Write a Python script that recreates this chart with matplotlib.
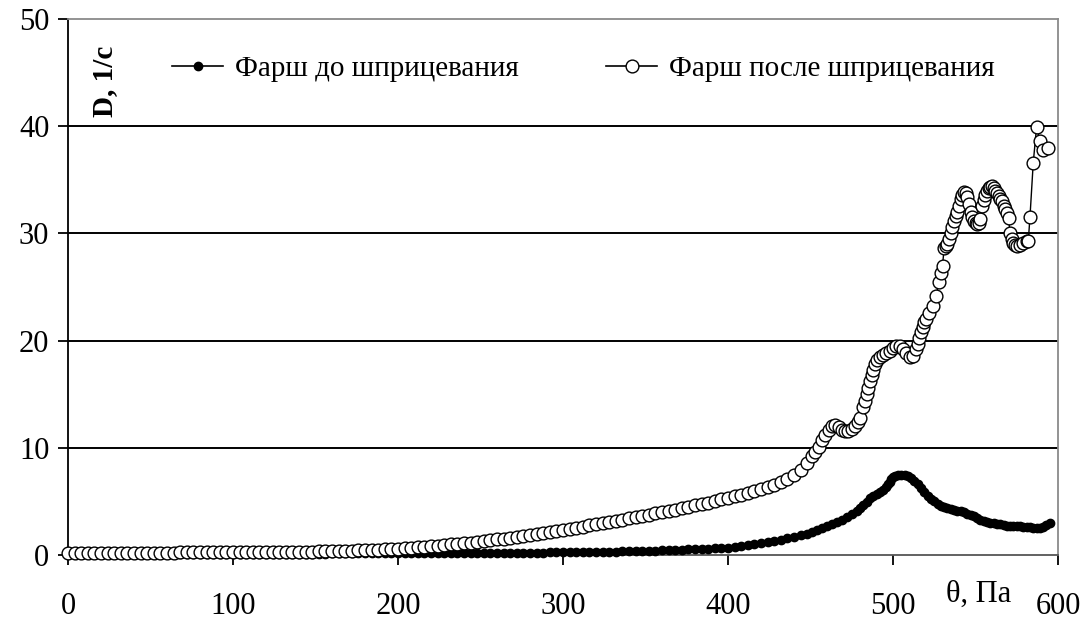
import matplotlib
matplotlib.use("Agg")
import matplotlib.pyplot as plt
from matplotlib.lines import Line2D

plt.rcParams['font.family'] = ['Liberation Serif', 'DejaVu Serif']

# Shear stress θ, Pa (shared coarse part of both curves)
stress_coarse = [
    0, 4, 8, 12, 16, 20, 24, 28, 32, 36,
    40, 44, 48, 52, 56, 60, 64, 68, 72, 76,
    80, 84, 88, 92, 96, 100, 104, 108, 112, 116,
    120, 124, 128, 132, 136, 140, 144, 148, 152, 156,
    160, 164, 168, 172, 176, 180, 184, 188, 192, 196,
    200, 204, 208, 212, 216, 220, 224, 228, 232, 236,
    240, 244, 248, 252, 256, 260, 264, 268, 272, 276,
    280, 284, 288, 292, 296, 300, 304, 308, 312, 316,
    320, 324, 328, 332, 336, 340, 344, 348, 352, 356,
    360, 364, 368, 372, 376, 380, 384, 388, 392, 396,
    400, 404, 408, 412, 416, 420, 424, 428, 432, 436,
    440, 444, 448,
]

# Mince before syringing: shear rate D, 1/s
rate_before_coarse = [
    0.12, 0.12, 0.12, 0.12, 0.12, 0.12, 0.12, 0.12, 0.12, 0.12,
    0.12, 0.12, 0.12, 0.12, 0.12, 0.12, 0.12, 0.12, 0.12, 0.12,
    0.12, 0.12, 0.12, 0.12, 0.12, 0.12, 0.12, 0.12, 0.12, 0.12,
    0.12, 0.12, 0.13, 0.13, 0.13, 0.13, 0.13, 0.13, 0.13, 0.13,
    0.14, 0.14, 0.14, 0.14, 0.14, 0.14, 0.14, 0.14, 0.15, 0.15,
    0.15, 0.15, 0.15, 0.16, 0.16, 0.16, 0.16, 0.17, 0.17, 0.17,
    0.18, 0.18, 0.18, 0.19, 0.19, 0.20, 0.20, 0.21, 0.21, 0.22,
    0.22, 0.23, 0.23, 0.24, 0.24, 0.25, 0.26, 0.27, 0.27, 0.28,
    0.29, 0.30, 0.31, 0.32, 0.33, 0.35, 0.36, 0.38, 0.40, 0.41,
    0.43, 0.45, 0.47, 0.50, 0.52, 0.54, 0.57, 0.59, 0.62, 0.64,
    0.66, 0.72, 0.80, 0.90, 1.00, 1.10, 1.20, 1.30, 1.43, 1.57,
    1.70, 1.84, 1.98,
]
stress_before_fine = [
    451, 454, 457, 460, 463, 466, 469, 472, 475, 478,
    480, 482, 484, 486, 488, 490, 492, 494, 496, 497,
    498, 499, 500, 501, 503, 505, 507, 509, 511, 513,
    515, 517, 519, 521, 523, 525, 527, 529, 531, 533,
    535, 537, 539, 541, 543, 545, 547, 549, 551, 553,
    555, 557, 559, 561, 563, 565, 567, 569, 571, 573,
    575, 577, 579, 581, 583, 585, 587, 589, 591, 593,
    595,
]
rate_before_fine = [
    2.15, 2.30, 2.50, 2.70, 2.90, 3.05, 3.25, 3.50, 3.80, 4.15,
    4.40, 4.65, 4.95, 5.30, 5.50, 5.70, 5.90, 6.10, 6.35, 6.60,
    6.85, 7.10, 7.25, 7.40, 7.50, 7.50, 7.50, 7.40, 7.20, 6.90,
    6.60, 6.25, 5.90, 5.55, 5.25, 5.00, 4.80, 4.60, 4.50, 4.35,
    4.25, 4.20, 4.15, 4.10, 4.00, 3.85, 3.70, 3.60, 3.45, 3.30,
    3.20, 3.10, 3.00, 2.95, 2.90, 2.85, 2.80, 2.75, 2.72, 2.70,
    2.70, 2.68, 2.65, 2.62, 2.58, 2.55, 2.50, 2.52, 2.60, 2.80,
    3.00,
]

# Mince after syringing: shear rate D, 1/s
rate_after_coarse = [
    0.22, 0.22, 0.22, 0.22, 0.22, 0.22, 0.22, 0.22, 0.22, 0.22,
    0.23, 0.23, 0.23, 0.23, 0.23, 0.23, 0.23, 0.24, 0.24, 0.24,
    0.24, 0.24, 0.24, 0.25, 0.25, 0.25, 0.25, 0.26, 0.26, 0.26,
    0.27, 0.27, 0.28, 0.28, 0.29, 0.29, 0.30, 0.31, 0.33, 0.35,
    0.37, 0.38, 0.39, 0.41, 0.43, 0.45, 0.47, 0.50, 0.53, 0.57,
    0.60, 0.64, 0.68, 0.72, 0.77, 0.82, 0.87, 0.92, 0.98, 1.04,
    1.10, 1.16, 1.23, 1.31, 1.38, 1.45, 1.53, 1.61, 1.69, 1.78,
    1.87, 1.96, 2.05, 2.15, 2.25, 2.35, 2.45, 2.55, 2.65, 2.76,
    2.86, 2.97, 3.08, 3.19, 3.30, 3.41, 3.53, 3.64, 3.76, 3.88,
    4.00, 4.12, 4.24, 4.37, 4.49, 4.62, 4.76, 4.89, 5.03, 5.18,
    5.33, 5.48, 5.64, 5.80, 5.97, 6.15, 6.35, 6.57, 6.82, 7.10,
    7.50, 7.95, 8.55,
]
stress_after_fine = [
    451, 453, 455, 457, 459, 461, 463, 465, 467, 469,
    471, 473, 475, 477, 479, 480, 482, 483, 484, 485,
    486, 487, 488, 489, 490, 492, 494, 496, 498, 500,
    502, 504, 506, 508, 510, 512, 514, 515, 516, 517,
    518, 519, 520, 522, 524, 526, 528, 529, 530, 531,
    532, 533, 534, 535, 536, 537, 538, 539, 540, 541,
    542, 543, 544, 545, 546, 547, 548, 549, 550, 551,
    552, 553, 554, 555, 556, 557, 558, 559, 560, 561,
    562, 563, 564, 565, 566, 567, 568, 569, 570, 571,
    572, 573, 574, 575, 577, 579, 581, 582, 583, 585,
    587, 589, 591, 594,
]
rate_after_fine = [
    9.2, 9.6, 10.1, 10.7, 11.2, 11.7, 12.0, 12.1, 11.9, 11.7,
    11.6, 11.6, 11.8, 12.0, 12.4, 12.8, 13.8, 14.4, 15.0, 15.6,
    16.2, 16.8, 17.3, 17.8, 18.2, 18.5, 18.7, 18.8, 19.0, 19.3,
    19.5, 19.5, 19.2, 18.8, 18.5, 18.6, 19.2, 19.7, 20.2, 20.8,
    21.3, 21.7, 22.0, 22.6, 23.2, 24.2, 25.5, 26.3, 27.0, 28.6,
    28.8, 29.0, 29.5, 30.0, 30.6, 31.2, 31.6, 32.0, 32.6, 33.2,
    33.6, 33.9, 33.8, 33.4, 32.7, 32.0, 31.5, 31.2, 31.0, 30.9,
    31.0, 31.3, 32.6, 33.1, 33.6, 34.0, 34.2, 34.3, 34.4, 34.2,
    34.0, 33.8, 33.5, 33.2, 33.0, 32.6, 32.3, 31.9, 31.4, 30.0,
    29.5, 29.1, 28.9, 28.8, 28.9, 29.1, 29.3, 29.3, 31.5, 36.6,
    39.9, 38.6, 37.8, 38.0,
]

x_ticks = [0, 100, 200, 300, 400, 500, 600]
y_ticks = [0, 10, 20, 30, 40, 50]
label_before = "Фарш до шприцевания"
label_after = "Фарш после шприцевания"

stress_before = stress_coarse + stress_before_fine
rate_before = rate_before_coarse + rate_before_fine
stress_after = stress_coarse + stress_after_fine
rate_after = rate_after_coarse + rate_after_fine

W, H = 1089, 623
fig = plt.figure(figsize=(W / 100, H / 100), dpi=100)
ax = fig.add_axes([68 / W, 1 - 555 / H, (1058 - 68) / W, (555 - 19) / H])

ax.plot(stress_before, rate_before, color='black', lw=2.5, marker='o',
        markersize=6, markerfacecolor='black', markeredgecolor='black',
        zorder=3, clip_on=False)
ax.plot(stress_after, rate_after, color='black', lw=1.0, marker='o',
        markersize=9.2, markerfacecolor='white', markeredgecolor='black',
        markeredgewidth=1.0, zorder=4, clip_on=False)

ax.set_xlim(0, 600)
ax.set_ylim(0, 50)
ax.set_xticks(x_ticks)
ax.set_yticks(y_ticks)

for y in y_ticks[1:-1]:
    ax.axhline(y, color='black', lw=1.4, zorder=1)

ax.spines['left'].set_color('black')
ax.spines['left'].set_linewidth(1.3)
for side in ('top', 'right'):
    ax.spines[side].set_color('#8a8a8a')
    ax.spines[side].set_linewidth(1.3)
ax.spines['bottom'].set_color('#555555')
ax.spines['bottom'].set_linewidth(1.3)

ax.tick_params(axis='both', direction='out', length=7.5, width=1.3,
               color='black', labelsize=22)
ax.tick_params(axis='x', pad=19)
ax.tick_params(axis='y', pad=6)

fig.text(105 / W, 1 - 81 / H, "D, 1/с", rotation=90, fontsize=21,
         fontweight='bold', ha='center', va='center')
fig.text(979 / W, 1 - 594 / H, "θ, Па", fontsize=22, ha='center',
         va='center')

handles = [
    Line2D([], [], color='black', lw=1.2, marker='o', markersize=6,
           markerfacecolor='black', markeredgecolor='black'),
    Line2D([], [], color='black', lw=1.2, marker='o', markersize=9.2,
           markerfacecolor='white', markeredgecolor='black'),
]
ax.legend(handles, [label_before, label_after], loc='center left',
          bbox_to_anchor=(172 / W, 1 - 69 / H), bbox_transform=fig.transFigure,
          ncol=2, frameon=False, fontsize=21, handlelength=1.75,
          handletextpad=0.41, columnspacing=3.0, borderpad=0, borderaxespad=0)

fig.savefig("out.png", dpi=100, facecolor='white')
